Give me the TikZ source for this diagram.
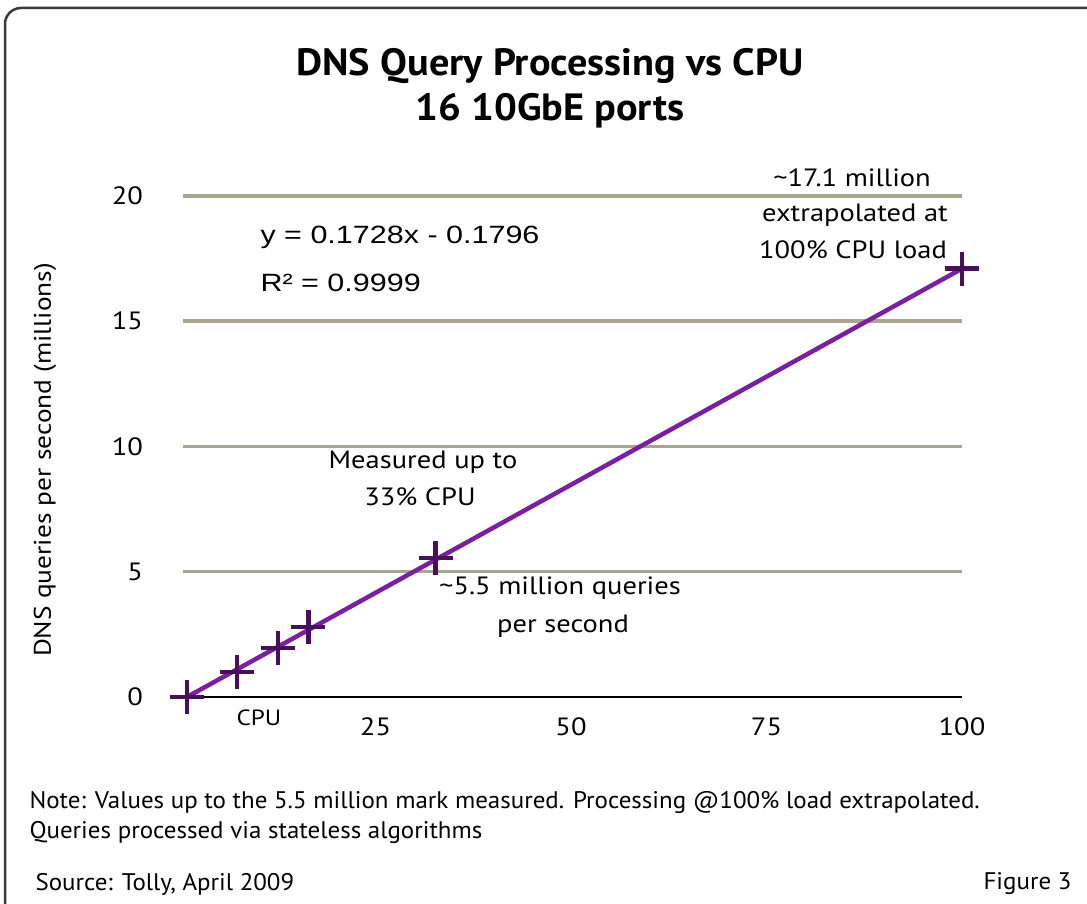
\documentclass[tikz,border=0pt]{standalone}
\usepackage{fontspec}
\setmainfont[FakeStretch=1.14]{PT Sans}
\newfontfamily\titlefont[FakeStretch=1.06]{PT Sans}
\newfontfamily\notefont[FakeStretch=1.04]{PT Sans}
\newfontfamily\eqfont[FakeStretch=1.22]{Liberation Sans}
\usetikzlibrary{calc}

\definecolor{gridgray}{HTML}{A8A593}
\definecolor{fitpurple}{HTML}{7A1FA0}
\definecolor{markpurple}{HTML}{4A0F5C}
\definecolor{framegray}{HTML}{3A3A3A}

\begin{document}
\begin{tikzpicture}[x=1pt, y=1pt,
    tick/.style={font=\fontsize{25}{28}\selectfont},
    note/.style={font=\fontsize{25}{28}\selectfont, align=center},
    gridline/.style={gridgray, line width=3.5pt},
    crossmark/.style={markpurple, line width=4.5pt}]
    \useasboundingbox (0,0) rectangle (1087,903);
    \fill[white] (0,0) rectangle (1087,903);

    % frame, only top and left sides visible
    \draw[framegray, line width=2.5pt, rounded corners=16pt] (5,-10) |- (1100,895);

    % title
    \node (title1) at (550,837) {\titlefont\bfseries\fontsize{38}{40}\selectfont DNS Query Processing vs CPU};
    \node (title2) at (550,792) {\titlefont\bfseries\fontsize{38}{40}\selectfont 16 10GbE ports};

    % plot area in data units: x in % CPU, y in millions
    \begin{scope}[shift={(180pt,206pt)}, x=7.82pt, y=25.05pt]
        \foreach \v in {5,10,15,20} {
            \draw[gridline] (0.4,\v) -- (100,\v);
            \node[tick, anchor=east] (ylab\v) at (-4.3,\v) {\v};
        }
        \node[tick, anchor=east] (ylab0) at (-4.3,0) {0};
        \draw[black, line width=1.8pt] (1,0) -- (100,0);
        \foreach \v in {25,50,75,100} {
            \node[tick] (xlab\v) at (\v,-1.2) {\v};
        }

        \coordinate (p1) at (0.9,0);    \coordinate (p2) at (7.3,1.0);
        \coordinate (p3) at (12.5,1.96); \coordinate (p4) at (16.4,2.8);
        \coordinate (p5) at (32.7,5.55); \coordinate (p6) at (100,17.1);

        \draw[fitpurple, line width=4.5pt] (p1) -- (p6);
        \foreach \p in {p1,p2,p3,p4,p5,p6} {
            \draw[crossmark] ($(\p)+(-17pt,0)$) -- ($(\p)+(17pt,0)$);
            \draw[crossmark] ($(\p)+(0,-17pt)$) -- ($(\p)+(0,17pt)$);
        }
    \end{scope}

    % axis titles
    \node[tick, rotate=90, font=\fontsize{24}{28}\selectfont] (ytitle) at (45,443) {DNS queries per second (millions)};
    \node[tick, font=\fontsize{22}{26}\selectfont] (xtitle) at (259,185) {CPU};

    % fit annotations
    \node[anchor=west, font=\eqfont\fontsize{25}{28}\selectfont] (eq) at (257,666) {y = 0.1728x - 0.1796};
    \node[anchor=west, font=\eqfont\fontsize{25}{28}\selectfont] (rsq) at (257,620) {R² = 0.9999};

    \node[note] (extra1) at (852,725) {\textasciitilde17.1 million};
    \node[note] (extra2) at (855,688) {extrapolated at};
    \node[note] (extra3) at (853,653) {100\% CPU load};

    \node[note] (meas1) at (423,441) {Measured up to};
    \node[note] (meas2) at (420,406) {33\% CPU};

    \node[note] (mill1) at (560,315) {\textasciitilde5.5 million queries};
    \node[note] (mill2) at (563,277) {per second};

    % footer
    \node[anchor=west, font=\notefont\fontsize{24}{28}\selectfont] (note1) at (26,101) {Note: Values up to the 5.5 million mark measured. Processing @100\% load extrapolated.};
    \node[anchor=west, font=\notefont\fontsize{24}{28}\selectfont] (note2) at (26,71) {Queries processed via stateless algorithms};
    \node[anchor=west, font=\notefont\fontsize{24}{28}\selectfont] (source) at (32,19) {Source: Tolly, April 2009};
    \node[anchor=east, font=\notefont\fontsize{24}{28}\selectfont] (fig) at (1075,19) {Figure 3};
\end{tikzpicture}
\end{document}
